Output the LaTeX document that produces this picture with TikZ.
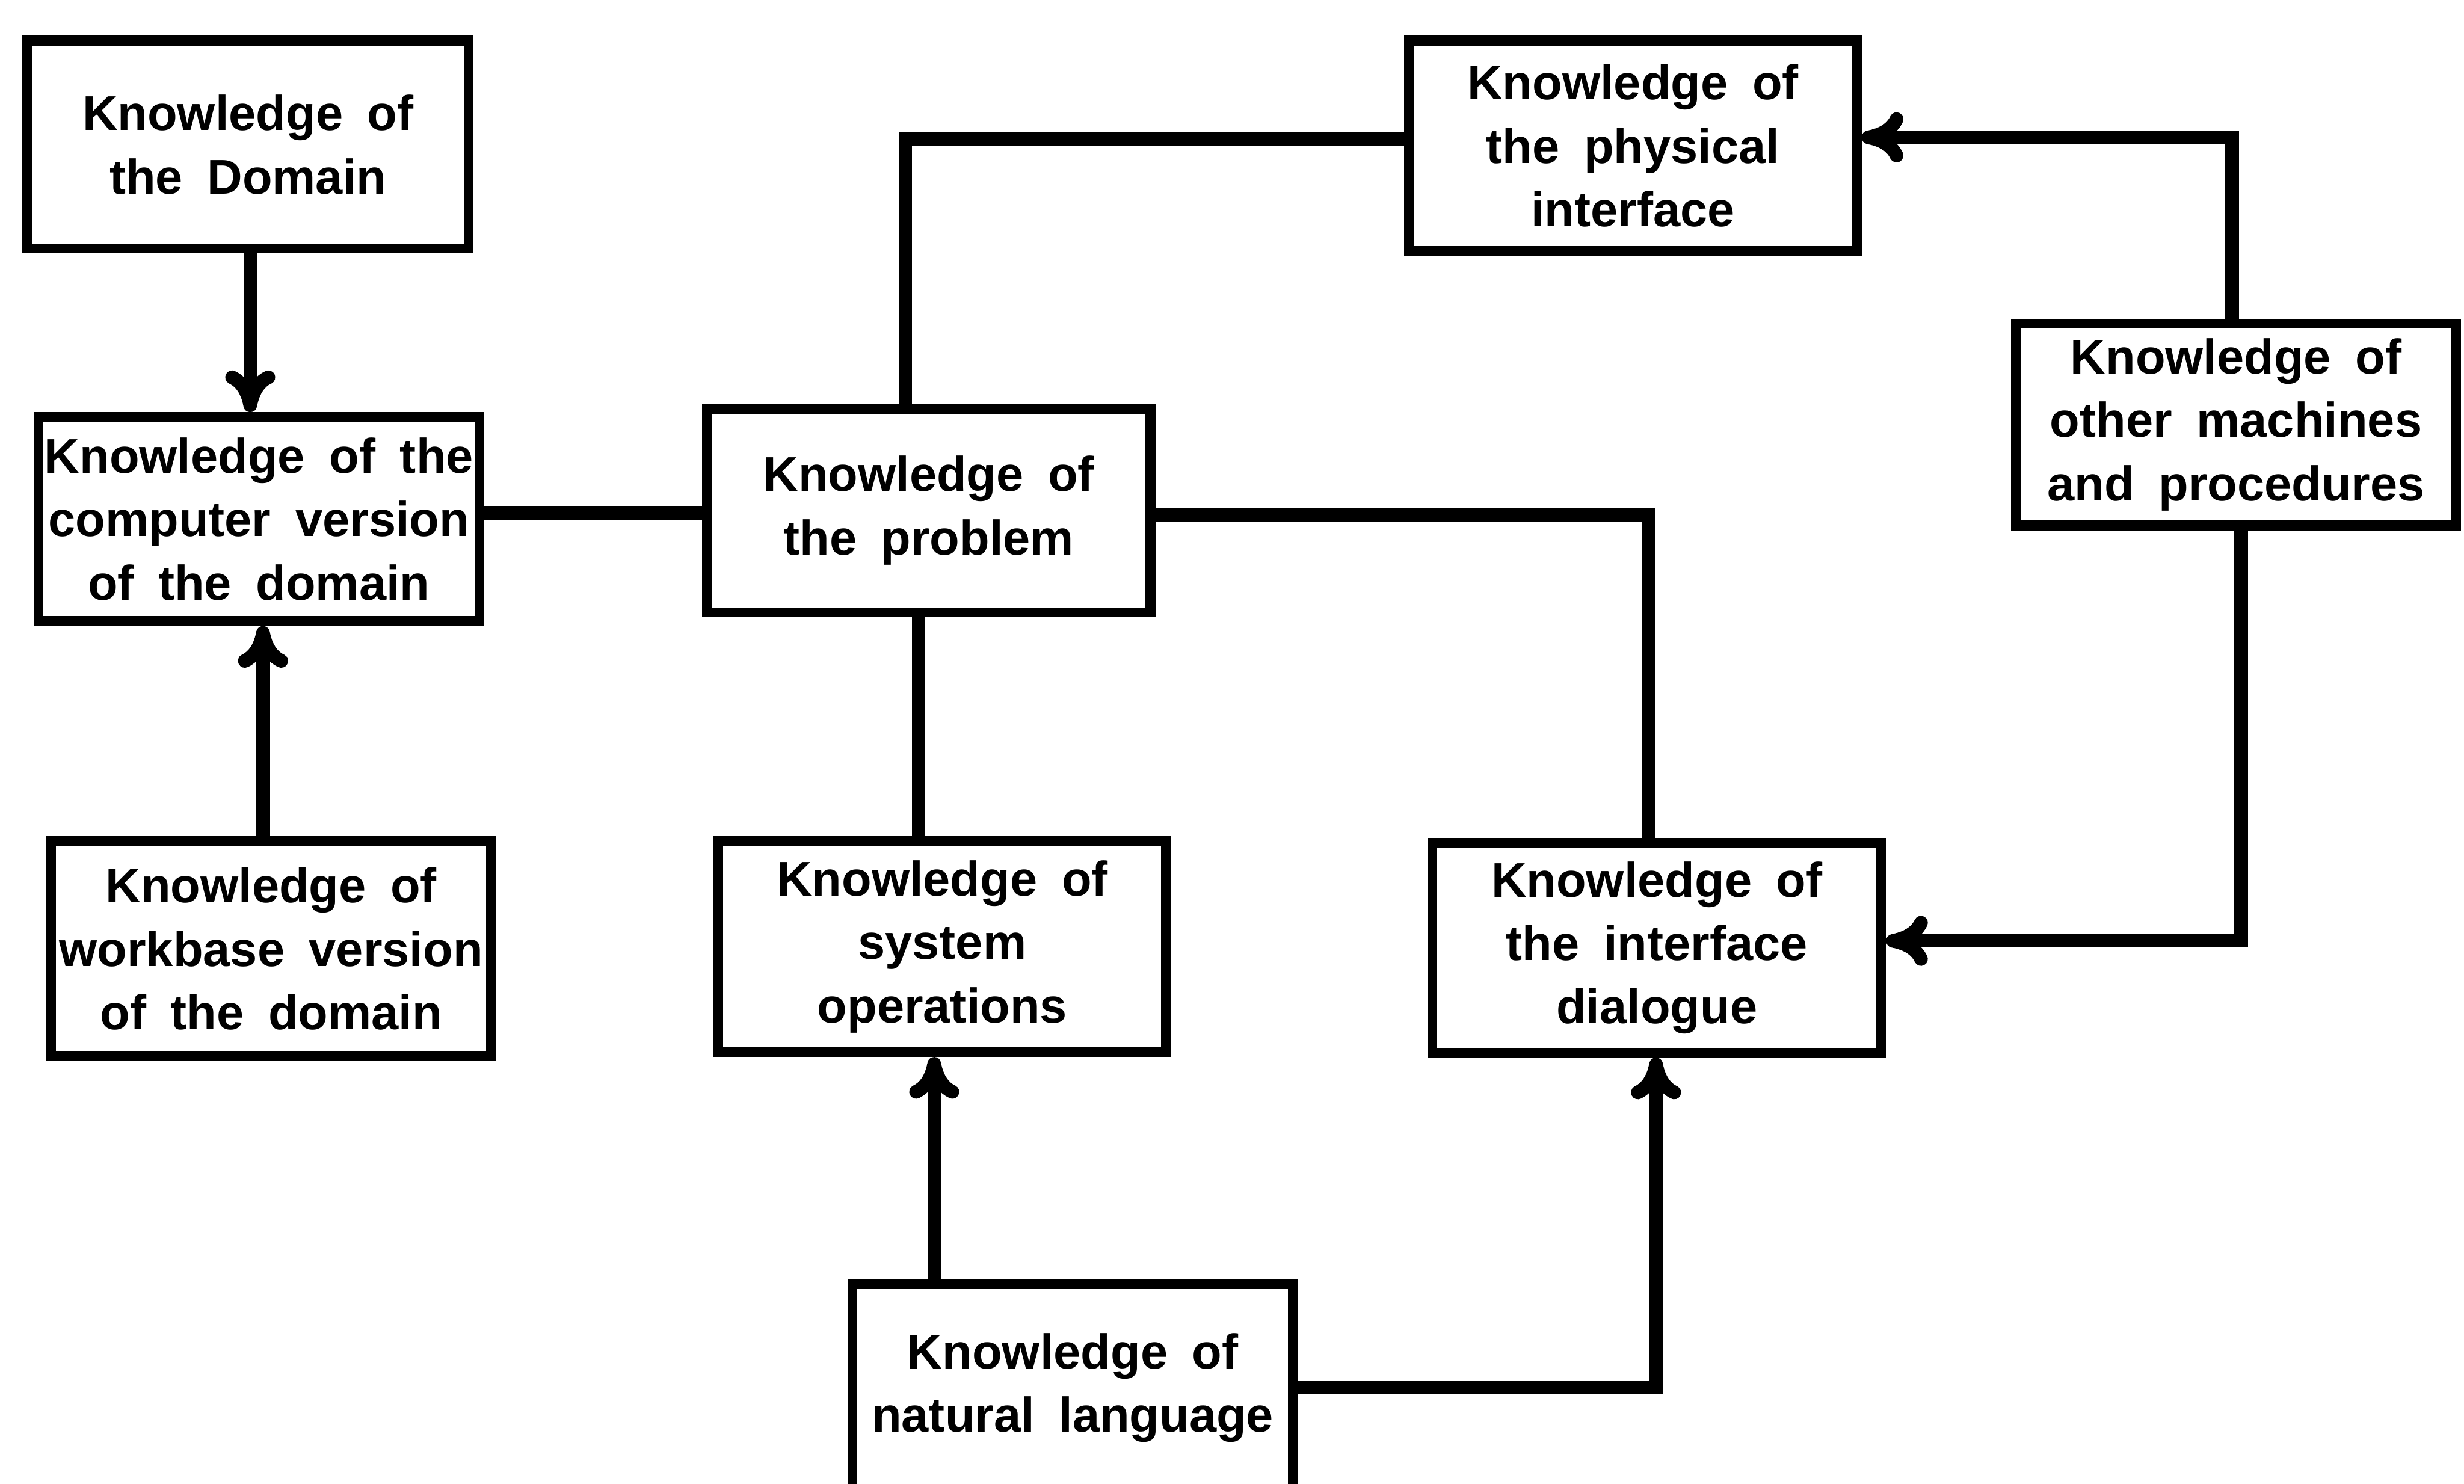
\documentclass[tikz,border=0pt]{standalone}
\usepackage{fontspec}
\setmainfont{Liberation Sans}
\usetikzlibrary{arrows.meta}
\newcommand\kbfont{\fontsize{25}{32.4}\selectfont\bfseries\spaceskip=0.5em plus 0.1em\relax}
\begin{document}
\begin{tikzpicture}[x=1cm,y=1cm,
  kbox/.style={draw, line width=5pt, inner sep=0pt, align=center, font=\kbfont},
  conn/.style={line width=7pt, line join=miter},
  arr/.style={conn, -{Computer Modern Rightarrow[length=0.75cm,width=0.9cm]}}]
\useasboundingbox (0,0) rectangle (44.31,-26.68);
\fill[white] (0,0) rectangle (44.31,-26.68);

\node[kbox, minimum width=7.94cm, minimum height=3.74cm] (dom) at (4.46,-2.60) {Knowledge of\\the Domain};
\node[kbox, minimum width=7.93cm, minimum height=3.67cm] (comp) at (4.655,-9.335) {Knowledge of the\\computer version\\of the domain};
\node[kbox, minimum width=7.91cm, minimum height=3.86cm] (work) at (4.875,-17.06) {Knowledge of\\workbase version\\of the domain};
\node[kbox, minimum width=7.98cm, minimum height=3.66cm] (prob) at (16.70,-9.18) {Knowledge of\\the problem};
\node[kbox, minimum width=8.05cm, minimum height=3.79cm] (sys) at (16.945,-17.025) {Knowledge of\\system\\operations};
\node[kbox, minimum width=7.92cm, minimum height=3.74cm] (nat) at (19.29,-24.96) {Knowledge of\\natural language};
\node[kbox, minimum width=8.05cm, minimum height=3.78cm] (phys) at (29.365,-2.62) {Knowledge of\\the physical\\interface};
\node[kbox, minimum width=7.92cm, minimum height=3.63cm] (other) at (40.21,-7.635) {Knowledge of\\other machines\\and procedures};
\node[kbox, minimum width=8.07cm, minimum height=3.77cm] (dia) at (29.795,-17.045) {Knowledge of\\the interface\\dialogue};

\coordinate (k1) at (4.50,0);
\coordinate (k2) at (4.73,0);
\coordinate (k3) at (0,-9.22);
\coordinate (k4) at (16.28,-2.50);
\coordinate (k5) at (29.65,-9.26);
\coordinate (k6) at (16.52,0);
\coordinate (k7) at (16.80,0);
\coordinate (k8) at (29.78,-24.95);
\coordinate (k9) at (40.14,-2.47);
\coordinate (k10) at (40.30,-16.92);

\draw[arr] (dom.south -| k1) -- (comp.north -| k1);
\draw[arr] (work.north -| k2) -- (comp.south -| k2);
\draw[conn] (comp.east |- k3) -- (prob.west |- k3);
\draw[conn] (prob.north -| k4) -- (k4) -- (phys.west |- k4);
\draw[conn] (prob.east |- k5) -- (k5) -- (dia.north -| k5);
\draw[conn] (prob.south -| k6) -- (sys.north -| k6);
\draw[arr] (nat.north -| k7) -- (sys.south -| k7);
\draw[arr] (nat.east |- k8) -- (k8) -- (dia.south -| k8);
\draw[arr] (other.north -| k9) -- (k9) -- (phys.east |- k9);
\draw[arr] (other.south -| k10) -- (k10) -- (dia.east |- k10);
\end{tikzpicture}
\end{document}
